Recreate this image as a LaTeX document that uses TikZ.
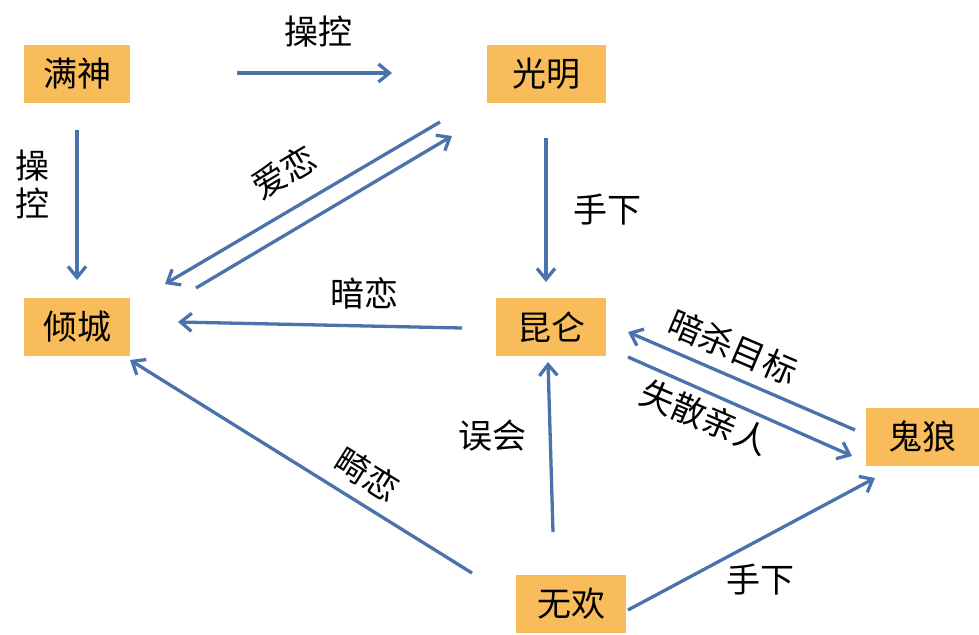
\documentclass[tikz,border=0pt]{standalone}
\usepackage{fontspec}
\setmainfont{Noto Sans CJK SC}
\usetikzlibrary{arrows.meta}
\definecolor{boxc}{HTML}{F9BC5B}
\definecolor{arrc}{HTML}{4A72AC}
\tikzset{
  box/.style={fill=boxc,minimum width=#1,minimum height=58pt,inner sep=0pt,font=\fontsize{34}{38}\selectfont},
  box/.default=106pt,
  arr/.style={draw=arrc,line width=3.3pt,-{Straight Barb[length=11pt,width=18pt,line width=3.3pt]}},
  lab/.style={font=\fontsize{34}{38}\selectfont,inner sep=0pt}
}
\begin{document}
\begin{tikzpicture}[x=1pt,y=-1pt]
\useasboundingbox (0,0) rectangle (979,634);
\node[box] (ms) at (77,74) {满神};
\node[box=119pt] (gm) at (546,74) {光明};
\node[box] (qc) at (77,327) {倾城};
\node[box=110pt] (kl) at (551,327) {昆仑};
\node[box=113pt] (gl) at (922,437) {鬼狼};
\node[box=110pt] (wh) at (571,604) {无欢};
\coordinate (a1) at (237,73); \coordinate (a2) at (392,73);
\draw[arr] (a1) -- (a2);
\node[lab] (l1) at (318,32) {操控};
\coordinate (b1) at (77,130); \coordinate (b2) at (77,280);
\draw[arr] (b1) -- (b2);
\node[lab,align=center] (l2) at (33,184) {操\\控};
\coordinate (c1) at (440,122); \coordinate (c2) at (165,284);
\draw[arr] (c1) -- (c2);
\coordinate (c3) at (196,288); \coordinate (c4) at (452,136);
\draw[arr] (c3) -- (c4);
\node[lab,rotate=31] (l3) at (284,172) {爱恋};
\coordinate (d1) at (546,138); \coordinate (d2) at (546,282);
\draw[arr] (d1) -- (d2);
\node[lab] (l4) at (607,210) {手下};
\coordinate (e1) at (462,328); \coordinate (e2) at (178,322);
\draw[arr] (e1) -- (e2);
\node[lab] (l5) at (364,293) {暗恋};
\coordinate (f1) at (855,430); \coordinate (f2) at (628,332);
\draw[arr] (f1) -- (f2);
\node[lab,rotate=-23] (l6) at (733,347) {暗杀目标};
\coordinate (g1) at (628,357); \coordinate (g2) at (852,456);
\draw[arr] (g1) -- (g2);
\node[lab,rotate=-23] (l7) at (705,417) {失散亲人};
\coordinate (h1) at (553,532); \coordinate (h2) at (548,362);
\draw[arr] (h1) -- (h2);
\node[lab] (l8) at (492,436) {误会};
\coordinate (i1) at (472,573); \coordinate (i2) at (130,360);
\draw[arr] (i1) -- (i2);
\node[lab,rotate=-32] (l9) at (367,474) {畸恋};
\coordinate (j1) at (628,610); \coordinate (j2) at (875,478);
\draw[arr] (j1) -- (j2);
\node[lab] (l10) at (760,580) {手下};
\end{tikzpicture}
\end{document}
